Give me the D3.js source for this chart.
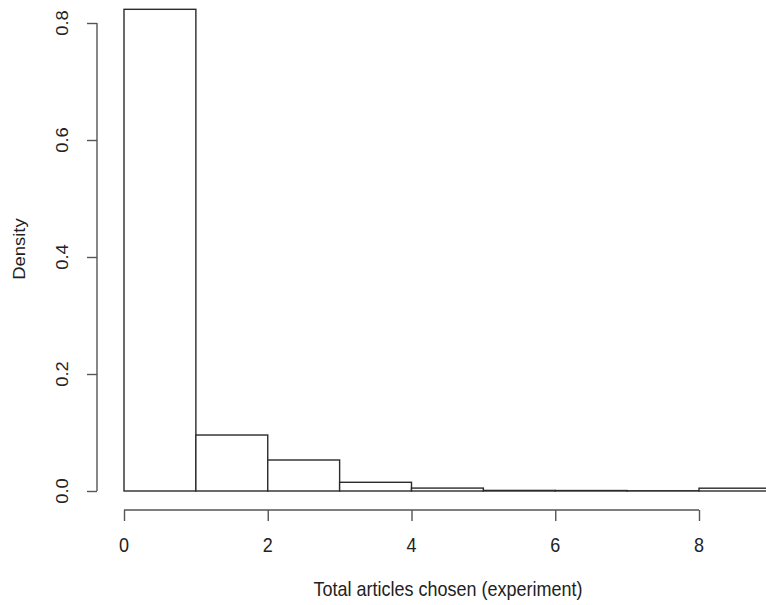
<!doctype html>
<html>
<head>
<meta charset="utf-8">
<script src="https://d3js.org/d3.v7.min.js"></script>
<style>
  body { margin: 0; background: #fff; }
  svg { display: block; font-family: "Liberation Sans", Arial, sans-serif; }
  .bar { fill: #fff; stroke: #2b2b2b; stroke-width: 1.4; }
  .axis path, .axis line { stroke: #555; stroke-width: 1.4; }
</style>
</head>
<body>
<svg width="766" height="605"></svg>
<script>
// histogram bins (left edges) and density values
var binStarts = [0, 1, 2, 3, 4, 5, 6, 7, 8];
var densities = [0.8234, 0.0957, 0.053, 0.0149, 0.0050, 0.0010, 0.0008, 0.0004, 0.0048];
var xTicks = [0, 2, 4, 6, 8];
var yTicks = [0.0, 0.2, 0.4, 0.6, 0.8];

var svg = d3.select("svg");

var x = d3.scaleLinear().domain([0, 9]).range([124, 124 + 9 * 71.875]);
var y = d3.scaleLinear().domain([0, 0.8]).range([491, 23]);

// bars
svg.selectAll(".bar")
   .data(binStarts)
   .enter().append("rect")
   .attr("class", "bar")
   .attr("x", function(d) { return x(d); })
   .attr("width", function(d) { return x(d + 1) - x(d); })
   .attr("y", function(d, i) { return y(densities[i]); })
   .attr("height", function(d, i) { return y(0) - y(densities[i]); });

// x axis (R style, detached below the plot)
var gx = svg.append("g")
    .attr("class", "axis")
    .attr("transform", "translate(0,510)")
    .call(d3.axisBottom(x).tickValues(xTicks).tickSize(11).tickSizeOuter(0).tickFormat(d3.format("d")));
gx.select(".domain").attr("d", "M" + x(0) + ",0H" + x(8));
gx.selectAll("text").remove();

svg.selectAll(".xlab")
   .data(xTicks)
   .enter().append("text")
   .attr("class", "xlab")
   .attr("transform", function(d) { return "translate(" + x(d) + ",552) scale(1,1.15)"; })
   .attr("text-anchor", "middle")
   .attr("font-size", "18px")
   .attr("fill", "#222")
   .text(function(d) { return d; });

// y axis
var gy = svg.append("g")
    .attr("class", "axis")
    .attr("transform", "translate(97,0)")
    .call(d3.axisLeft(y).tickValues(yTicks).tickSize(10).tickSizeOuter(0));
gy.select(".domain").attr("d", "M0," + y(0) + "V" + y(0.8));
gy.selectAll("text").remove();

svg.selectAll(".ylab")
   .data(yTicks)
   .enter().append("text")
   .attr("class", "ylab")
   .attr("transform", function(d) { return "translate(68," + y(d) + ") scale(1,1.15) rotate(-90)"; })
   .attr("text-anchor", "middle")
   .attr("font-size", "16px")
   .attr("fill", "#222")
   .text(function(d) { return d3.format(".1f")(d); });

// axis titles
svg.append("text")
   .attr("transform", "translate(448,596) scale(1,1.15)")
   .attr("text-anchor", "middle")
   .attr("font-size", "18px")
   .attr("fill", "#222")
   .text("Total articles chosen (experiment)");

svg.append("text")
   .attr("transform", "translate(25,249) scale(1,1.15) rotate(-90)")
   .attr("text-anchor", "middle")
   .attr("font-size", "16px")
   .attr("fill", "#222")
   .text("Density");
</script>
</body>
</html>
